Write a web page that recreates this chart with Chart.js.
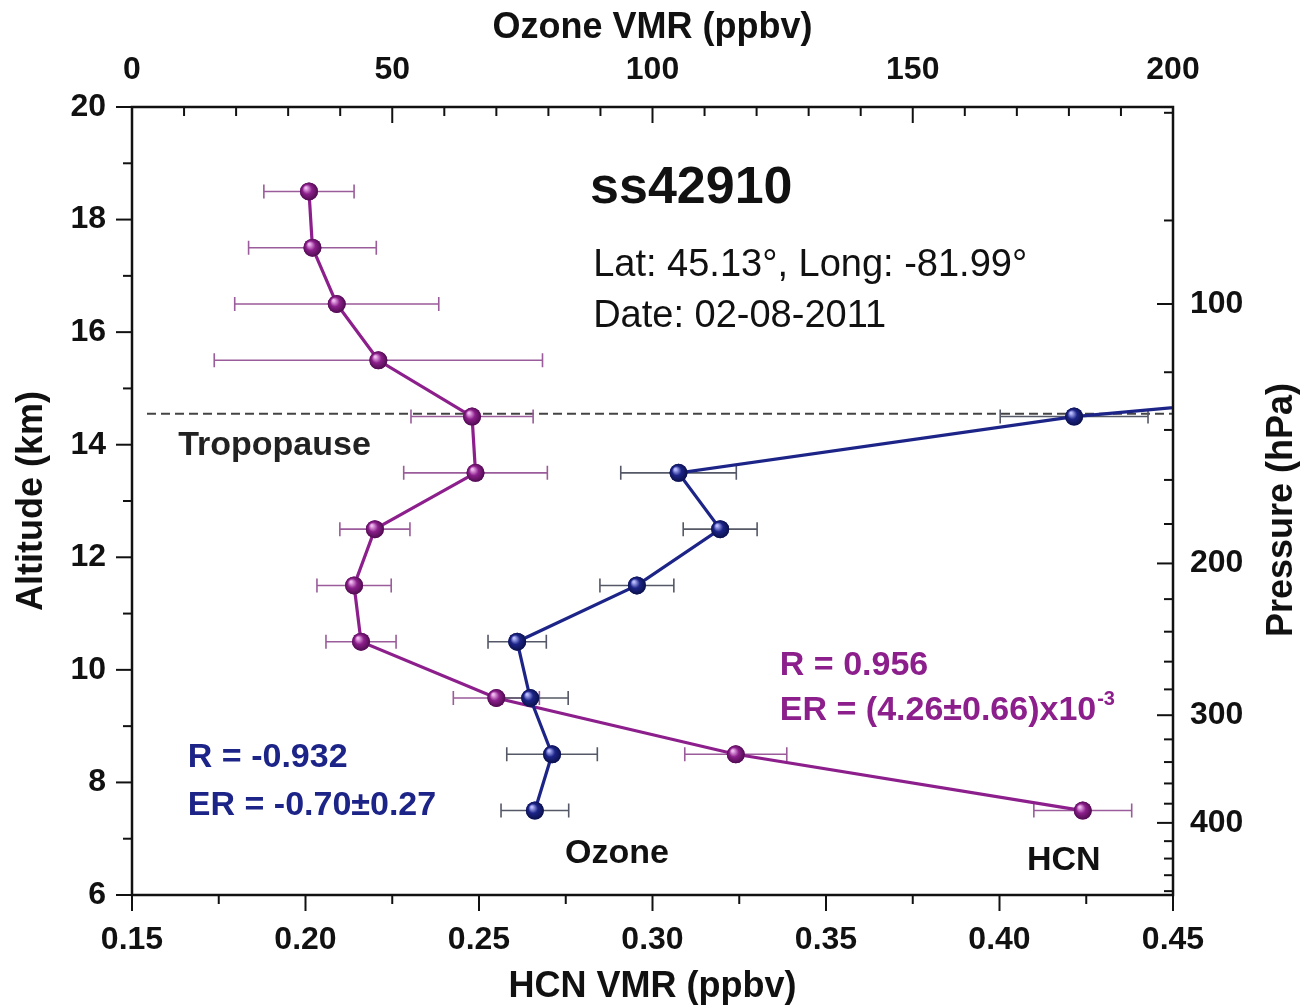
<!DOCTYPE html>
<html>
<head>
<meta charset="utf-8">
<title>HCN and Ozone profile ss42910</title>
<script src="https://cdn.jsdelivr.net/npm/chart.js@4.4.1/dist/chart.umd.min.js"></script>
<style>
  html, body { margin: 0; padding: 0; background: #ffffff; }
  #wrap { width: 1305px; height: 1006px; position: relative; }
</style>
</head>
<body>
<div id="wrap"><canvas id="profile"></canvas></div>
<script>
const FONT = '"Liberation Sans", Arial, Helvetica, sans-serif';

// HCN profile (bottom axis, ppbv) versus altitude (km)
const hcnAltKm = [18.5, 17.5, 16.5, 15.5, 14.5, 13.5, 12.5, 11.5, 10.5, 9.5, 8.5, 7.5];
const hcnVmr   = [0.201, 0.202, 0.209, 0.221, 0.248, 0.249, 0.220, 0.214, 0.216, 0.255, 0.324, 0.424];
const hcnErr   = [0.013, 0.0184, 0.0294, 0.0473, 0.0176, 0.0207, 0.0101, 0.0107, 0.0101, 0.0124, 0.0147, 0.0141];

// Ozone profile (top axis, ppbv) versus altitude (km)
const ozoneAltKm = [15.5, 14.5, 13.5, 12.5, 11.5, 10.5, 9.5, 8.5, 7.5];
const ozoneVmr   = [300, 181, 105, 113, 97, 74, 76.5, 80.7, 77.4];
const ozoneErr   = [null, 14.2, 11.1, 7.1, 7.1, 5.6, 7.3, 8.7, 6.5];

const tropopauseKm = 14.55;

// Axis ticks
const altTicks      = [6, 8, 10, 12, 14, 16, 18, 20];
const altMinor      = [7, 9, 11, 13, 15, 17, 19];
const hcnTicks      = [0.15, 0.20, 0.25, 0.30, 0.35, 0.40, 0.45];
const hcnMinor      = [0.175, 0.225, 0.275, 0.325, 0.375, 0.425];
const ozoneTicks    = [0, 50, 100, 150, 200];
const ozoneMinor    = [10, 20, 30, 40, 60, 70, 80, 90, 110, 120, 130, 140, 160, 170, 180, 190];
const pressureMajor = [100, 200, 300, 400];
const pressureMinor = [60, 80, 120, 140, 160, 180, 220, 240, 260, 280, 320, 340, 360, 380, 420, 440, 460, 480];

// Pressure (hPa) to altitude (km) for the right-hand axis
const P_REF = 100, Z_REF = 16.5, SCALE_HEIGHT = 6.65;
const pressureToAlt = p => Z_REF - SCALE_HEIGHT * Math.log(p / P_REF);

const PURPLE = '#8c1f8c';
const NAVY = '#1c2488';

const tickFont  = { family: FONT, size: 32, weight: 'bold' };
const titleFont = { family: FONT, size: 36, weight: 'bold' };

const noGrid = { display: false, drawTicks: false };
const noBorder = { display: false };

function setTicks(values) {
  return scale => { scale.ticks = values.map(v => ({ value: v })); };
}

// Text placed in HCN / altitude coordinates
const notes = [
  { text: 'ss42910', hcn: 0.282, alt: 18.3, size: 52, weight: 'bold', color: '#111' },
  { text: 'Lat: 45.13°, Long: -81.99°', hcn: 0.2829, alt: 17.0, size: 38, weight: 'normal', color: '#111' },
  { text: 'Date: 02-08-2011', hcn: 0.2829, alt: 16.09, size: 38, weight: 'normal', color: '#111' },
  { text: 'Tropopause', hcn: 0.1633, alt: 13.82, size: 34, weight: 'bold', color: '#222' },
  { text: 'R = 0.956', hcn: 0.3367, alt: 9.91, size: 34, weight: 'bold', color: PURPLE },
  { text: 'ER = (4.26±0.66)x10', sup: '-3', hcn: 0.3367, alt: 9.11, size: 34, weight: 'bold', color: PURPLE },
  { text: 'R = -0.932', hcn: 0.1661, alt: 8.27, size: 34, weight: 'bold', color: NAVY },
  { text: 'ER = -0.70±0.27', hcn: 0.1661, alt: 7.42, size: 34, weight: 'bold', color: NAVY },
  { text: 'Ozone', hcn: 0.2748, alt: 6.57, size: 34, weight: 'bold', color: '#111' },
  { text: 'HCN', hcn: 0.4079, alt: 6.45, size: 34, weight: 'bold', color: '#111' }
];

const profileDecor = {
  id: 'profileDecor',
  beforeDatasetsDraw(chart) {
    const { ctx, chartArea: a, scales } = chart;
    const y = scales.y;
    ctx.save();
    // tropopause
    const ty = y.getPixelForValue(tropopauseKm);
    ctx.strokeStyle = '#444';
    ctx.lineWidth = 2;
    ctx.setLineDash([9, 5]);
    ctx.beginPath();
    ctx.moveTo(a.left + 15, ty);
    ctx.lineTo(a.right, ty);
    ctx.stroke();
    ctx.setLineDash([]);

    // horizontal error bars
    const drawErr = (alts, vals, errs, xs, color) => {
      ctx.strokeStyle = color;
      ctx.lineWidth = 1.6;
      alts.forEach((alt, i) => {
        const e = errs[i];
        if (e == null) return;
        const py = y.getPixelForValue(alt);
        const x1 = xs.getPixelForValue(vals[i] - e);
        const x2 = xs.getPixelForValue(vals[i] + e);
        ctx.beginPath();
        ctx.moveTo(Math.max(x1, a.left), py);
        ctx.lineTo(Math.min(x2, a.right), py);
        [x1, x2].forEach(xx => {
          if (xx >= a.left && xx <= a.right) {
            ctx.moveTo(xx, py - 7);
            ctx.lineTo(xx, py + 7);
          }
        });
        ctx.stroke();
      });
    };
    drawErr(hcnAltKm, hcnVmr, hcnErr, scales.x, '#9a5c9a');
    drawErr(ozoneAltKm, ozoneVmr, ozoneErr, scales.xTop, '#555866');
    ctx.restore();
  },
  afterDatasetsDraw(chart) {
    const { ctx, chartArea: a, scales } = chart;
    ctx.save();
    // shaded spheres on the markers
    const shades = [
      { light: '#b8bcff', base: NAVY, dark: '#0a0f45' },
      { light: '#f0b8f0', base: PURPLE, dark: '#4a0a4a' }
    ];
    chart.data.datasets.forEach((ds, di) => {
      const meta = chart.getDatasetMeta(di);
      const s = shades[di];
      meta.data.forEach(pt => {
        const r = pt.options.radius;
        if (pt.x < a.left || pt.x > a.right || pt.y < a.top || pt.y > a.bottom) return;
        const g = ctx.createRadialGradient(pt.x - r * 0.35, pt.y - r * 0.4, r * 0.1, pt.x, pt.y, r * 1.05);
        g.addColorStop(0, s.light);
        g.addColorStop(0.45, s.base);
        g.addColorStop(1, s.dark);
        ctx.fillStyle = g;
        ctx.beginPath();
        ctx.arc(pt.x, pt.y, r, 0, Math.PI * 2);
        ctx.fill();
      });
    });

    // frame
    ctx.strokeStyle = '#111';
    ctx.lineWidth = 2.5;
    ctx.strokeRect(a.left, a.top, a.right - a.left, a.bottom - a.top);

    // tick marks
    ctx.lineWidth = 2;
    const line = (x1, y1, x2, y2) => { ctx.beginPath(); ctx.moveTo(x1, y1); ctx.lineTo(x2, y2); ctx.stroke(); };
    altTicks.forEach(v => { const p = scales.y.getPixelForValue(v); line(a.left - 16, p, a.left, p); });
    altMinor.forEach(v => { const p = scales.y.getPixelForValue(v); line(a.left - 9, p, a.left, p); });
    hcnTicks.forEach(v => { const p = scales.x.getPixelForValue(v); line(p, a.bottom, p, a.bottom + 16); });
    hcnMinor.forEach(v => { const p = scales.x.getPixelForValue(v); line(p, a.bottom, p, a.bottom + 9); });
    ozoneTicks.forEach(v => { const p = scales.xTop.getPixelForValue(v); line(p, a.top, p, a.top + 16); });
    ozoneMinor.forEach(v => { const p = scales.xTop.getPixelForValue(v); line(p, a.top, p, a.top + 9); });
    pressureMajor.forEach(v => { const p = scales.yP.getPixelForValue(pressureToAlt(v)); line(a.right - 16, p, a.right, p); });
    pressureMinor.forEach(v => { const p = scales.yP.getPixelForValue(pressureToAlt(v)); line(a.right - 9, p, a.right, p); });

    // right axis title, reading upwards like the left one
    ctx.save();
    ctx.translate(scales.yP.right - 23, (a.top + a.bottom) / 2 + 9);
    ctx.rotate(-Math.PI / 2);
    ctx.font = `bold 36px ${FONT}`;
    ctx.fillStyle = '#111';
    ctx.textAlign = 'center';
    ctx.textBaseline = 'middle';
    ctx.fillText('Pressure (hPa)', 0, 0);
    ctx.restore();

    // text
    ctx.textBaseline = 'alphabetic';
    ctx.textAlign = 'left';
    notes.forEach(n => {
      const x = scales.x.getPixelForValue(n.hcn);
      const yy = scales.y.getPixelForValue(n.alt);
      ctx.fillStyle = n.color;
      ctx.font = `${n.weight} ${n.size}px ${FONT}`;
      ctx.fillText(n.text, x, yy);
      if (n.sup) {
        const w = ctx.measureText(n.text).width;
        ctx.font = `${n.weight} ${Math.round(n.size * 0.6)}px ${FONT}`;
        ctx.fillText(n.sup, x + w + 1, yy - n.size * 0.45);
      }
    });
    ctx.restore();
  }
};

new Chart(document.getElementById('profile'), {
  type: 'line',
  data: {
    datasets: [
      {
        label: 'Ozone',
        data: ozoneAltKm.map((alt, i) => ({ x: ozoneVmr[i], y: alt })),
        xAxisID: 'xTop',
        yAxisID: 'y',
        borderColor: NAVY,
        backgroundColor: NAVY,
        borderWidth: 3.2,
        pointRadius: 9,
        pointBorderWidth: 0,
        tension: 0
      },
      {
        label: 'HCN',
        data: hcnAltKm.map((alt, i) => ({ x: hcnVmr[i], y: alt })),
        xAxisID: 'x',
        yAxisID: 'y',
        borderColor: PURPLE,
        backgroundColor: PURPLE,
        borderWidth: 3.2,
        pointRadius: 9,
        pointBorderWidth: 0,
        tension: 0
      }
    ]
  },
  options: {
    responsive: true,
    maintainAspectRatio: false,
    animation: false,
    layout: { padding: 0 },
    plugins: { legend: { display: false }, tooltip: { enabled: false } },
    scales: {
      x: {
        type: 'linear', position: 'bottom', min: 0.15, max: 0.45,
        afterBuildTicks: setTicks(hcnTicks),
        ticks: { callback: v => v.toFixed(2), font: tickFont, color: '#111', padding: 26, autoSkip: false, maxRotation: 0 },
        grid: noGrid, border: noBorder,
        title: { display: true, text: 'HCN VMR (ppbv)', font: titleFont, color: '#111', padding: { top: 0, bottom: -3 } },
        afterFit: s => { s.height = 111; }
      },
      xTop: {
        type: 'linear', position: 'top', min: 0, max: 200,
        afterBuildTicks: setTicks(ozoneTicks),
        ticks: { callback: v => String(v), font: tickFont, color: '#111', padding: 18, autoSkip: false, maxRotation: 0 },
        grid: noGrid, border: noBorder,
        title: { display: true, text: 'Ozone VMR (ppbv)', font: titleFont, color: '#111', padding: { top: 6, bottom: 0 } },
        afterFit: s => { s.height = 107; }
      },
      y: {
        type: 'linear', position: 'left', min: 6, max: 20,
        afterBuildTicks: setTicks(altTicks),
        ticks: { callback: v => String(v), font: tickFont, color: '#111', padding: 26, autoSkip: false },
        grid: noGrid, border: noBorder,
        title: { display: true, text: 'Altitude (km)', font: titleFont, color: '#111', padding: { top: 10, bottom: 0 } },
        afterFit: s => { s.width = 132; }
      },
      yP: {
        type: 'linear', position: 'right', min: 6, max: 20,
        afterBuildTicks: s => { s.ticks = pressureMajor.map(p => ({ value: pressureToAlt(p) })); },
        ticks: { callback: (v, i) => String(pressureMajor[i]), font: tickFont, color: '#111', padding: 17, autoSkip: false },
        grid: noGrid, border: noBorder,
        title: { display: false },
        afterFit: s => { s.width = 132; }
      }
    }
  },
  plugins: [profileDecor]
});
</script>
</body>
</html>
